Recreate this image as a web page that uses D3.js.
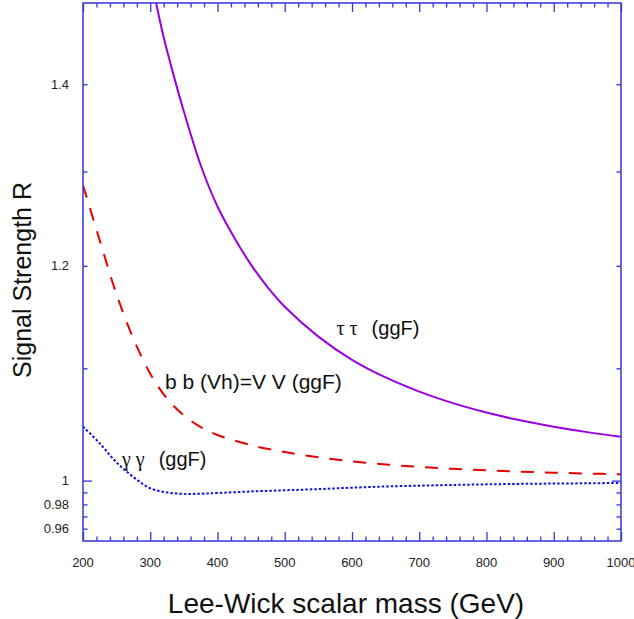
<!DOCTYPE html>
<html>
<head>
<meta charset="utf-8">
<script src="https://cdn.jsdelivr.net/npm/d3@7"></script>
<style>
  body { margin: 0; background: #fff; }
  svg { display: block; font-family: 'Liberation Sans', Arial, sans-serif; }
</style>
</head>
<body>
<div id="chart"></div>
<script>
// Signal strength R vs Lee-Wick scalar mass
const tauMass = [300, 310, 320, 335, 350, 375, 400, 425, 450, 475, 500, 550, 600, 650, 700, 750, 800, 850, 900, 950, 1000];
const tauR = [1.54, 1.495, 1.457, 1.41, 1.368, 1.307, 1.262, 1.229, 1.201, 1.178, 1.159, 1.130, 1.108, 1.0915, 1.0785, 1.068, 1.0595, 1.0525, 1.0468, 1.042, 1.038];

const bbMass = [200, 225, 250, 275, 300, 325, 350, 375, 400, 450, 500, 550, 600, 650, 700, 750, 800, 850, 900, 950, 1000];
const bbR = [1.285, 1.226, 1.171, 1.128, 1.095, 1.072, 1.057, 1.0465, 1.0395, 1.0305, 1.0245, 1.02, 1.0165, 1.0138, 1.0117, 1.01, 1.0087, 1.0076, 1.0067, 1.006, 1.0054];

const ggMass = [200, 225, 250, 275, 300, 325, 350, 375, 400, 450, 500, 550, 600, 650, 700, 750, 800, 850, 900, 950, 1000];
const ggR = [1.047, 1.032, 1.0155, 1.003, 0.9935, 0.990, 0.9888, 0.9889, 0.9895, 0.9908, 0.9918, 0.9928, 0.9940, 0.9950, 0.9957, 0.9963, 0.9968, 0.9972, 0.9975, 0.9977, 0.998];

const xTicks = [200, 300, 400, 500, 600, 700, 800, 900, 1000];
const yTicks = [0.96, 0.97, 0.98, 0.99, 1, 1.1, 1.2, 1.3, 1.4];
const yTickLabels = { 0.96: '0.96', 0.98: '0.98', 1: '1', 1.2: '1.2', 1.4: '1.4' };

const width = 634;
const height = 619;
const margin = { top: 3, right: 13, bottom: 78, left: 83 };
const axisColor = '#3535dd';

const svg = d3
  .select('#chart')
  .append('svg')
  .attr('width', width)
  .attr('height', height);

const x = d3
  .scaleLinear()
  .domain([200, 1000])
  .range([margin.left, width - margin.right]);

const y = d3
  .scaleLog()
  .domain([0.95, 1.5])
  .range([height - margin.bottom, margin.top]);

svg
  .append('clipPath')
  .attr('id', 'plot-clip')
  .append('rect')
  .attr('x', margin.left)
  .attr('y', margin.top)
  .attr('width', width - margin.left - margin.right)
  .attr('height', height - margin.top - margin.bottom);

// curves
const series = [
  { mass: tauMass, r: tauR, color: '#9a00dd', dash: null, w: 2 },
  { mass: bbMass, r: bbR, color: '#e80000', dash: '13,11', w: 2 },
  { mass: ggMass, r: ggR, color: '#1010e0', dash: '2.5,2', w: 2 },
];

const line = d3
  .line()
  .x((d) => x(d[0]))
  .y((d) => y(d[1]))
  .curve(d3.curveCatmullRom.alpha(0.5));

svg
  .append('g')
  .attr('clip-path', 'url(#plot-clip)')
  .selectAll('path')
  .data(series)
  .join('path')
  .attr('d', (s) => line(d3.zip(s.mass, s.r)))
  .attr('fill', 'none')
  .attr('stroke', (s) => s.color)
  .attr('stroke-width', (s) => s.w)
  .attr('stroke-dasharray', (s) => s.dash);

// axes: major ticks every 100, minor every 20, on both bottom and top
const minorX = d3.range(200, 1001, 20).filter((d) => d % 100 !== 0);

function xAxis(g, axisFn, size) {
  g.call(
    axisFn(x)
      .tickValues(size > 6 ? xTicks : minorX)
      .tickSize(size)
      .tickFormat('')
  );
}

const bottomAxis = svg.append('g').attr('transform', `translate(0, ${height - margin.bottom})`);
bottomAxis.append('g').call(xAxis, d3.axisTop, 4.5);
bottomAxis.append('g').call(xAxis, d3.axisTop, 9);

const topAxis = svg.append('g').attr('transform', `translate(0, ${margin.top})`);
topAxis.append('g').call(xAxis, d3.axisBottom, 4.5);
topAxis.append('g').call(xAxis, d3.axisBottom, 9);

// x tick labels
svg
  .append('g')
  .selectAll('text')
  .data(xTicks)
  .join('text')
  .attr('x', (d) => x(d))
  .attr('y', height - margin.bottom + 26)
  .attr('text-anchor', 'middle')
  .attr('font-size', 13)
  .attr('fill', '#222')
  .text((d) => d);

function yAxis(g, axisFn) {
  const dir = axisFn === d3.axisLeft ? 1 : -1;
  g.call(axisFn(y).tickValues(yTicks).tickSize(0).tickFormat(''));
  g.selectAll('.tick line').attr('x2', (d) => dir * (d === 1 ? 9 : 4.5));
}

svg
  .append('g')
  .attr('transform', `translate(${margin.left}, 0)`)
  .call(yAxis, d3.axisLeft);

svg
  .append('g')
  .attr('transform', `translate(${width - margin.right}, 0)`)
  .call(yAxis, d3.axisRight);

// y tick labels
svg
  .append('g')
  .selectAll('text')
  .data(yTicks.filter((d) => yTickLabels[d]))
  .join('text')
  .attr('x', margin.left - 14)
  .attr('y', (d) => y(d))
  .attr('dy', '0.35em')
  .attr('text-anchor', 'end')
  .attr('font-size', 13)
  .attr('fill', '#222')
  .text((d) => yTickLabels[d]);

svg.selectAll('.domain').remove();
svg.selectAll('.tick line').attr('stroke', axisColor).attr('stroke-width', 1.3);

// frame
svg
  .append('rect')
  .attr('x', margin.left)
  .attr('y', margin.top)
  .attr('width', width - margin.left - margin.right)
  .attr('height', height - margin.top - margin.bottom)
  .attr('fill', 'none')
  .attr('stroke', axisColor)
  .attr('stroke-width', 1.5);

// axis titles
svg
  .append('text')
  .attr('x', 346)
  .attr('y', 613)
  .attr('text-anchor', 'middle')
  .attr('font-size', 28)
  .attr('fill', '#111')
  .text('Lee-Wick scalar mass (GeV)');

svg
  .append('text')
  .attr('transform', `translate(31, 280) rotate(-90)`)
  .attr('text-anchor', 'middle')
  .attr('font-size', 25)
  .attr('fill', '#111')
  .text('Signal Strength R');

// curve labels
const labels = [
  { m: 577, r: 1.132, greek: 'τ' },
  { m: 258, r: 1.0126, greek: 'γ' },
];

labels.forEach((l) => {
  const t = svg
    .append('text')
    .attr('x', x(l.m))
    .attr('y', y(l.r))
    .attr('font-size', 20)
    .attr('fill', '#111');
  t.append('tspan').attr('font-family', "'Liberation Serif', serif").text(`${l.greek} ${l.greek}`);
  t.append('tspan').attr('dx', 14).text('(ggF)');
});

svg
  .append('text')
  .attr('x', x(322))
  .attr('y', y(1.0811))
  .attr('font-size', 21)
  .attr('fill', '#111')
  .text('b b (Vh)=V V (ggF)');
</script>
</body>
</html>
